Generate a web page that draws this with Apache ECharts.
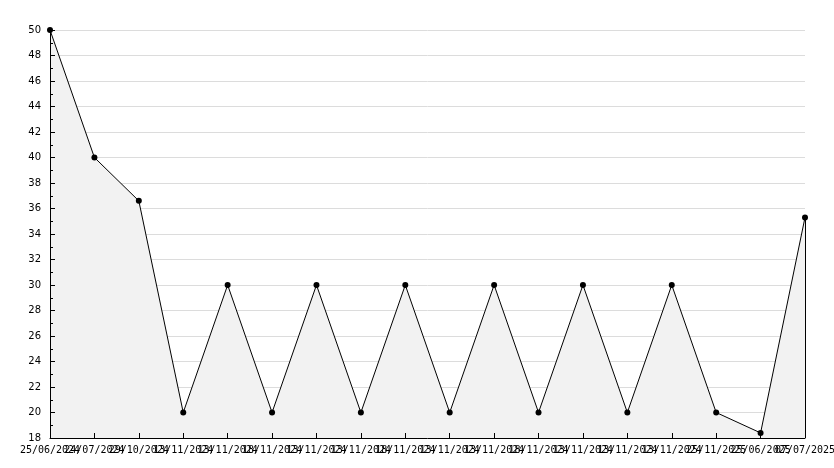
<!DOCTYPE html>
<html><head><meta charset="utf-8">
<script src="https://cdn.jsdelivr.net/npm/echarts@6/dist/echarts.min.js"></script>
<style>html,body{margin:0;padding:0;background:#fff}#c{width:834px;height:468px}</style>
</head><body><div id="c"></div>
<script>
const categories = ["25/06/2024","24/07/2024","29/10/2024","13/11/2024","13/11/2024","18/11/2024","13/11/2024","13/11/2024","18/11/2024","13/11/2024","13/11/2024","18/11/2024","13/11/2024","13/11/2024","13/11/2024","25/11/2025","25/06/2025","07/07/2025"];
const values = [50,40,36.6,20,30,20,30,20,30,20,30,20,30,20,30,20,18.4,35.3];
const yMin = 18, yMax = 50, yStep = 2;

const chart = echarts.init(document.getElementById('c'), null, {renderer:'canvas'});
chart.setOption({
  animation:false,
  backgroundColor:'#fff',
  grid:{left:50,right:29,top:30,bottom:30,containLabel:false,outerBoundsMode:'none'},
  xAxis:{
    type:'category', data:categories, boundaryGap:false, z:5,
    axisLine:{lineStyle:{color:'#000',width:1}},
    axisTick:{inside:true,length:5,alignWithLabel:true,interval:0,lineStyle:{color:'#000'}},
    axisLabel:{interval:0,hideOverlap:false,color:'#000',fontFamily:'DejaVu Sans Mono',fontSize:10,margin:7},
    splitLine:{show:false}
  },
  yAxis:[{
    type:'value', min:yMin, max:yMax, interval:yStep, z:0,
    axisLine:{show:false}, axisTick:{show:false}, axisLabel:{show:false},
    splitLine:{show:true,lineStyle:{color:'#dcdcdc',width:1}}
  },{
    type:'value', min:yMin, max:yMax, interval:yStep, z:5, position:'left',
    axisLine:{show:true,lineStyle:{color:'#000',width:1}},
    axisTick:{show:true,inside:true,length:5,lineStyle:{color:'#000'}},
    minorTick:{show:true,splitNumber:2,length:3,lineStyle:{color:'#000'}},
    axisLabel:{color:'#000',fontFamily:'DejaVu Sans',fontSize:10,margin:9},
    splitLine:{show:false}
  }],
  series:[{
    type:'line', data:values, z:2, yAxisIndex:0,
    lineStyle:{color:'#000',width:1},
    itemStyle:{color:'#000'},
    symbol:'circle', symbolSize:6,
    areaStyle:{color:'#f2f2f2',opacity:1,origin:'start'},
    markLine:{silent:true,symbol:'none',label:{show:false},lineStyle:{color:'#000',width:1,type:'solid'},
      data:[[{coord:[categories.length-1,values[values.length-1]]},{coord:[categories.length-1,yMin]}]]}
  }]
});
</script></body></html>
